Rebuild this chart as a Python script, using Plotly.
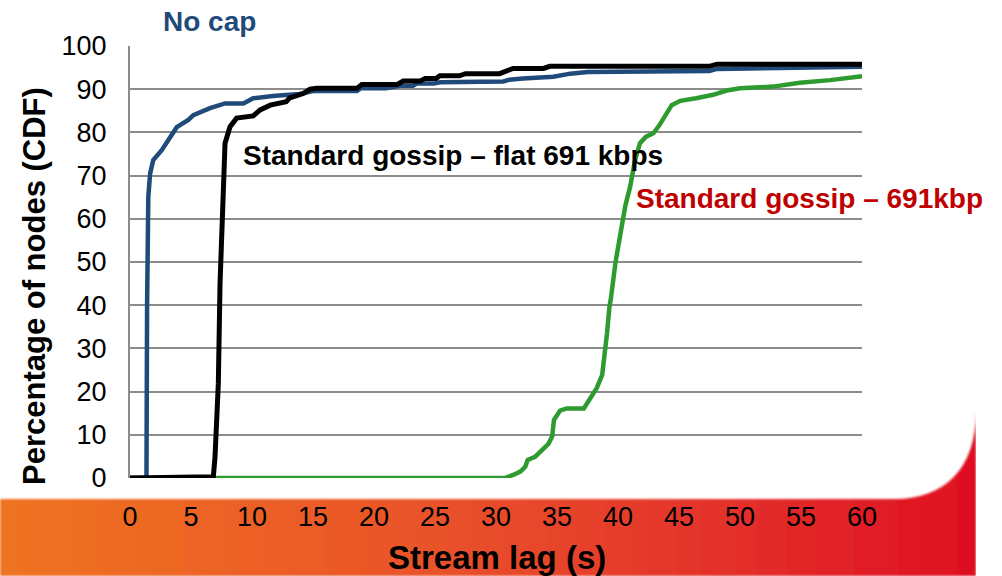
import base64
import plotly.graph_objects as go

# ---- data ----
nocap_x = [0, 1.35, 1.4, 1.5, 1.65, 1.91, 2.6, 3.28, 3.83, 4.78, 5.19, 6.56, 7.79, 9.29, 10.1, 11.7,
           13.9, 15.0, 18.6, 18.9, 21.0, 22.1, 23.2, 23.5, 24.9, 25.4, 27.3, 30.6, 31.1, 32.2, 34.7,
           36.1, 37.5, 47.5, 48.1, 54.9, 60]
nocap_y = [0, 0, 40, 65, 70.5, 73.6, 75.9, 78.6, 81.2, 82.9, 84.0, 85.6, 86.7, 86.7, 87.9, 88.4,
           88.9, 89.6, 89.6, 90.2, 90.2, 90.8, 90.8, 91.3, 91.3, 91.6, 91.7, 91.8, 92.2, 92.5, 92.9,
           93.6, 94.0, 94.2, 94.7, 94.9, 95.2]

flat_x = [0, 6.83, 6.97, 7.24, 7.38, 7.5, 7.65, 7.79, 8.2, 8.74, 10.1, 10.66, 11.5, 12.8, 13.1, 13.7,
          14.2, 14.75, 15.3, 18.6, 19.0, 21.9, 22.4, 23.8, 24.2, 25.1, 25.4, 27.0, 27.5, 30.3, 30.9,
          31.4, 33.9, 34.4, 47.5, 48.1, 60]
flat_y = [0, 0.3, 4.9, 21.9, 45.1, 55.1, 70.5, 77.5, 81.3, 83.3, 83.8, 85.2, 86.3, 87.1, 88.0, 88.4,
          89.0, 90.0, 90.2, 90.2, 91.1, 91.1, 91.9, 91.9, 92.5, 92.5, 93.1, 93.1, 93.6, 93.6, 94.2,
          94.8, 94.8, 95.3, 95.3, 95.8, 95.8]

std_x = [0, 30.7, 31.4, 32.0, 32.4, 32.6, 33.2, 33.6, 34.3, 34.6, 34.7, 34.75, 35.25, 35.8, 37.2,
         37.7, 38.25, 38.7, 38.9, 39.1, 39.3, 39.4, 39.8, 40.2, 40.6, 41.0, 41.4, 41.8, 42.3, 42.9,
         43.4, 44.4, 45.1, 46.4, 47.8, 48.9, 50.0, 52.7, 54.9, 57.4, 60]
std_y = [0, 0, 0.7, 1.5, 2.6, 4.2, 4.9, 6.1, 7.9, 9.6, 11.9, 13.4, 15.6, 16.1, 16.1,
         18.4, 20.8, 23.8, 28.1, 33.5, 39.7, 41.2, 50, 57, 63, 67.5, 73.6, 77.5, 79.0, 79.8,
         81.7, 86.3, 87.3, 87.9, 88.7, 89.7, 90.2, 90.6, 91.5, 92.1, 93.0]

x_ticks = list(range(0, 61, 5))
y_ticks = list(range(0, 101, 10))

label_nocap = "No cap"
label_flat = "Standard gossip – flat 691 kbps"
label_std = "Standard gossip – 691kbp"
x_title = "Stream lag (s)"
y_title = "Percentage of nodes (CDF)"

# ---- layout geometry ----
W, H = 1002, 576
L, R, T, B = 130, 140, 46, 98
PW, PH = W - L - R, H - T - B


def px(xpix):
    return (xpix - L) / PW


def py(ypix):
    return (H - B - ypix) / PH


svg = f"""<svg xmlns='http://www.w3.org/2000/svg' width='{W}' height='{H}' viewBox='0 0 {W} {H}' preserveAspectRatio='none'>
<defs>
<linearGradient id='g' x1='0' y1='0' x2='1' y2='0'>
<stop offset='0' stop-color='#EF7421'/>
<stop offset='0.45' stop-color='#E9522A'/>
<stop offset='0.75' stop-color='#E3302A'/>
<stop offset='1' stop-color='#DF0F22'/>
</linearGradient>
<filter id='b'><feGaussianBlur stdDeviation='1.2'/></filter>
</defs>
<path d='M0,499 L895,499 C945,499 976,468 976,412 L976,576 L0,576 Z' fill='url(#g)' filter='url(#b)'/>
<rect x='976' y='0' width='26' height='576' fill='white'/>
</svg>"""
src = "data:image/svg+xml;base64," + base64.b64encode(svg.encode()).decode()

fig = go.Figure()
fig.add_trace(go.Scatter(x=std_x, y=std_y, mode="lines",
                         line=dict(color="#2E9B30", width=4.5), showlegend=False))
fig.add_trace(go.Scatter(x=nocap_x, y=nocap_y, mode="lines",
                         line=dict(color="#1F4A7A", width=4.5), showlegend=False))
fig.add_trace(go.Scatter(x=flat_x, y=flat_y, mode="lines",
                         line=dict(color="#000000", width=5), showlegend=False))

fig.add_layout_image(dict(source=src, xref="paper", yref="paper",
                          x=px(0), y=1 + T / PH, sizex=W / PW, sizey=H / PH,
                          xanchor="left", yanchor="top", sizing="stretch", layer="below"))

annos = [
    dict(text=f"<b>{label_nocap}</b>", x=px(161), y=py(22), color="#1F4A7A"),
    dict(text=f"<b>{label_flat}</b>", x=px(241), y=py(155), color="#000000"),
    dict(text=f"<b>{label_std}</b>", x=px(634), y=py(199), color="#C00000"),
]
for a in annos:
    fig.add_annotation(text=a["text"], x=a["x"], y=a["y"], xref="paper", yref="paper",
                       xanchor="left", yanchor="middle", showarrow=False,
                       font=dict(family="Liberation Sans, Arial", size=28, color=a["color"]))

fig.add_annotation(text=f"<b>{x_title}</b>", x=px(497), y=py(557), xref="paper", yref="paper",
                   xanchor="center", yanchor="middle", showarrow=False,
                   font=dict(family="Liberation Sans, Arial", size=33, color="#000000"))
fig.add_annotation(text=f"<b>{y_title}</b>", x=px(34), y=py(286), xref="paper", yref="paper",
                   xanchor="center", yanchor="middle", showarrow=False, textangle=-90,
                   font=dict(family="Liberation Sans, Arial", size=31, color="#000000"))

fig.update_layout(
    width=W, height=H,
    margin=dict(l=L, r=R, t=T, b=B, autoexpand=False),
    paper_bgcolor="white", plot_bgcolor="white",
    font=dict(family="Liberation Sans, Arial", color="#000000"),
    xaxis=dict(range=[0, 60], tickvals=x_ticks, ticktext=[str(v) for v in x_ticks],
               showgrid=False, zeroline=False, showline=False,
               ticks="outside", ticklen=15, tickcolor="rgba(0,0,0,0)",
               tickfont=dict(size=27, color="#000000"), automargin=False, fixedrange=True),
    yaxis=dict(range=[0, 100], tickvals=y_ticks, ticktext=[str(v) for v in y_ticks],
               showgrid=True, gridcolor="#8C8C8C", gridwidth=2, zeroline=False,
               showline=True, linecolor="#8C8C8C", linewidth=2,
               ticks="outside", ticklen=16, tickcolor="rgba(0,0,0,0)",
               tickfont=dict(size=27, color="#000000"), automargin=False, fixedrange=True),
)

fig.write_html("out.html")
